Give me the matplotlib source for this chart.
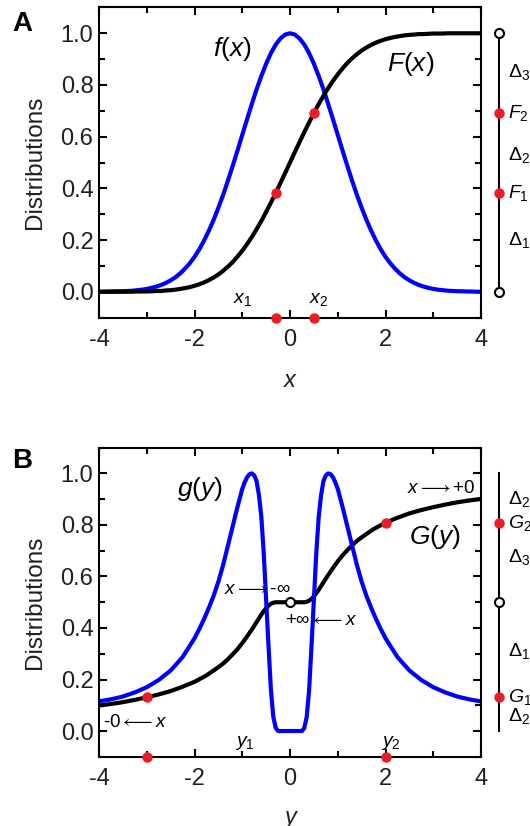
import matplotlib
matplotlib.use('Agg')
import matplotlib.pyplot as plt
from matplotlib.ticker import MultipleLocator

plt.rcParams.update({
    'font.family': ['Liberation Sans', 'DejaVu Sans'],
    'font.size': 17,
    'axes.unicode_minus': False,
    'mathtext.fontset': 'custom',
    'mathtext.rm': 'Liberation Sans',
    'mathtext.it': 'Liberation Sans:italic',
    'mathtext.bf': 'Liberation Sans:bold',
    'mathtext.fallback': 'stixsans',
})

# panel A: f(x) (scaled density) and F(x) (cumulative)
xa = [-4.0, -3.9, -3.8, -3.7, -3.6, -3.5, -3.4, -3.3, -3.2, -3.1,
      -3.0, -2.9, -2.8, -2.7, -2.6, -2.5, -2.4, -2.3, -2.2, -2.1,
      -2.0, -1.9, -1.8, -1.7, -1.6, -1.5, -1.4, -1.3, -1.2, -1.1,
      -1.0, -0.9, -0.8, -0.7, -0.6, -0.5, -0.4, -0.3, -0.2, -0.1,
      0.0, 0.1, 0.2, 0.3, 0.4, 0.5, 0.6, 0.7, 0.8, 0.9,
      1.0, 1.1, 1.2, 1.3, 1.4, 1.5, 1.6, 1.7, 1.8, 1.9,
      2.0, 2.1, 2.2, 2.3, 2.4, 2.5, 2.6, 2.7, 2.8, 2.9,
      3.0, 3.1, 3.2, 3.3, 3.4, 3.5, 3.6, 3.7, 3.8, 3.9, 4.0]
f_a = [0.000, 0.000, 0.001, 0.001, 0.002, 0.002, 0.003, 0.004, 0.006, 0.008,
       0.011, 0.015, 0.020, 0.026, 0.034, 0.044, 0.056, 0.071, 0.089, 0.110,
       0.135, 0.164, 0.198, 0.236, 0.278, 0.325, 0.375, 0.430, 0.487, 0.546,
       0.607, 0.667, 0.726, 0.783, 0.835, 0.882, 0.923, 0.956, 0.980, 0.995,
       1.000, 0.995, 0.980, 0.956, 0.923, 0.882, 0.835, 0.783, 0.726, 0.667,
       0.607, 0.546, 0.487, 0.430, 0.375, 0.325, 0.278, 0.236, 0.198, 0.164,
       0.135, 0.110, 0.089, 0.071, 0.056, 0.044, 0.034, 0.026, 0.020, 0.015,
       0.011, 0.008, 0.006, 0.004, 0.003, 0.002, 0.002, 0.001, 0.001, 0.000, 0.000]
F_a = [0.000, 0.000, 0.000, 0.000, 0.000, 0.000, 0.000, 0.000, 0.001, 0.001,
       0.001, 0.002, 0.003, 0.003, 0.005, 0.006, 0.008, 0.011, 0.014, 0.018,
       0.023, 0.029, 0.036, 0.045, 0.055, 0.067, 0.081, 0.097, 0.115, 0.136,
       0.159, 0.184, 0.212, 0.242, 0.274, 0.309, 0.345, 0.382, 0.421, 0.460,
       0.500, 0.540, 0.579, 0.618, 0.655, 0.691, 0.726, 0.758, 0.788, 0.816,
       0.841, 0.864, 0.885, 0.903, 0.919, 0.933, 0.945, 0.955, 0.964, 0.971,
       0.977, 0.982, 0.986, 0.989, 0.992, 0.994, 0.995, 0.997, 0.997, 0.998,
       0.999, 0.999, 0.999, 1.000, 1.000, 1.000, 1.000, 1.000, 1.000, 1.000, 1.000]
pts_x = [-0.3, 0.5]
pts_F = [0.382, 0.691]

# panel B: g(y) and G(y)
yb = [-4.0, -3.75, -3.5, -3.25, -3.0, -2.75, -2.5, -2.25, -2.0, -1.75, -1.5,
      -1.4, -1.3, -1.2, -1.1, -1.0, -0.9, -0.8, -0.7, -0.6, -0.55, -0.5,
      -0.45, -0.4, -0.35, -0.3, -0.2, -0.1, 0.0, 0.1, 0.2, 0.3, 0.35, 0.4,
      0.45, 0.5, 0.55, 0.6, 0.7, 0.8, 0.9, 1.0, 1.1, 1.2, 1.3, 1.4, 1.5,
      1.75, 2.0, 2.25, 2.5, 2.75, 3.0, 3.25, 3.5, 3.75, 4.0]
G_b = [0.099, 0.105, 0.112, 0.121, 0.131, 0.142, 0.155, 0.172, 0.191, 0.216, 0.248,
       0.262, 0.279, 0.298, 0.318, 0.341, 0.367, 0.394, 0.423, 0.452, 0.465, 0.477,
       0.487, 0.494, 0.498, 0.500, 0.500, 0.500, 0.500, 0.500, 0.500, 0.500, 0.502, 0.506,
       0.513, 0.523, 0.535, 0.548, 0.577, 0.606, 0.633, 0.659, 0.682, 0.702, 0.721, 0.738, 0.752,
       0.784, 0.809, 0.828, 0.845, 0.858, 0.869, 0.879, 0.888, 0.895, 0.901]
yg = [-4.0, -3.75, -3.5, -3.25, -3.0, -2.75, -2.5, -2.25, -2.0, -1.9, -1.8, -1.7,
      -1.6, -1.5, -1.4, -1.3, -1.2, -1.1, -1.0, -0.95, -0.9, -0.85, -0.8, -0.75,
      -0.7, -0.65, -0.6, -0.55, -0.5, -0.45, -0.4, -0.35, -0.3, -0.25,
      0.25, 0.3, 0.35, 0.4, 0.45, 0.5, 0.55, 0.6, 0.65, 0.7, 0.75, 0.8,
      0.85, 0.9, 0.95, 1.0, 1.1, 1.2, 1.3, 1.4, 1.5, 1.6, 1.7, 1.8, 1.9,
      2.0, 2.25, 2.5, 2.75, 3.0, 3.25, 3.5, 3.75, 4.0]
g_b = [0.115, 0.123, 0.134, 0.150, 0.170, 0.198, 0.235, 0.287, 0.360, 0.396, 0.435, 0.478,
       0.525, 0.580, 0.645, 0.720, 0.795, 0.870, 0.940, 0.965, 0.985, 0.997, 1.000, 0.993,
       0.970, 0.915, 0.830, 0.690, 0.510, 0.330, 0.160, 0.055, 0.012, 0.000,
       0.000, 0.012, 0.055, 0.160, 0.330, 0.510, 0.690, 0.830, 0.915, 0.970, 0.993, 1.000,
       0.997, 0.985, 0.965, 0.940, 0.870, 0.795, 0.720, 0.645, 0.580, 0.525, 0.478, 0.435, 0.396,
       0.360, 0.287, 0.235, 0.198, 0.170, 0.150, 0.134, 0.123, 0.115]
pts_y = [-3.0, 2.0]
pts_G = [0.131, 0.809]

xticks = [-4, -2, 0, 2, 4]
yticks = [0.0, 0.2, 0.4, 0.6, 0.8, 1.0]
ylabels = ['0.0', '0.2', '0.4', '0.6', '0.8', '1.0']

BLUE = '#0000ff'
RED = '#ec1c24'
TXT = '#231f20'
BAR_X = 4.38
LAB_X = 4.56

fig = plt.figure(figsize=(5.3, 8.26), dpi=100)
axA = fig.add_axes([0.1868, 0.6155, 0.7208, 0.3755])
axB = fig.add_axes([0.1868, 0.0838, 0.7208, 0.3742])


def style(ax, xlab, xlab_y):
    ax.set_xlim(-4, 4)
    ax.set_ylim(-0.1, 1.1)
    ax.set_xticks(xticks)
    ax.set_xticklabels([str(t) for t in xticks])
    ax.set_yticks(yticks)
    ax.set_yticklabels(ylabels)
    ax.xaxis.set_minor_locator(MultipleLocator(1))
    ax.yaxis.set_minor_locator(MultipleLocator(0.1))
    ax.tick_params(which='both', direction='in', top=True, right=True,
                   width=1.5, labelsize=17, labelcolor=TXT)
    ax.tick_params(which='major', length=6)
    ax.tick_params(which='minor', length=4)
    ax.tick_params(axis='x', pad=8)
    ax.tick_params(axis='y', pad=4)
    for s in ax.spines.values():
        s.set_linewidth(1.5)
    ax.set_ylabel('Distributions', fontsize=17.5, color=TXT)
    ax.yaxis.set_label_coords(-0.14, 0.5)
    ax.set_xlabel(xlab, fontsize=17, style='italic', color=TXT)
    ax.xaxis.set_label_coords(0.5, xlab_y)


# ---- panel A
style(axA, 'x', -0.165)
axA.plot(xa, f_a, color=BLUE, lw=3)
axA.plot(xa, F_a, color='k', lw=3)
axA.plot(pts_x, pts_F, 'o', color=RED, ms=6.5, zorder=5)
axA.plot(pts_x, [-0.1, -0.1], 'o', color=RED, ms=6.5, zorder=5, clip_on=False)
axA.text(-1.2, 0.94, r'$f(x)$', fontsize=19, ha='center', va='center')
axA.text(2.53, 0.88, r'$F(x)$', fontsize=19, ha='center', va='center')
axA.text(-1.0, -0.03, r'$x_1$', fontsize=14, ha='center', va='center')
axA.text(0.6, -0.03, r'$x_2$', fontsize=14, ha='center', va='center')

axA.plot([BAR_X, BAR_X], [0, 1], color='k', lw=1.5, clip_on=False)
axA.plot([BAR_X, BAR_X], [0, 1], 'o', mfc='white', mec='k', mew=1.5, ms=6.5, clip_on=False)
axA.plot([BAR_X, BAR_X], pts_F, 'o', color=RED, ms=6.5, clip_on=False, zorder=5)
for yv, s in [(0.85, r'$\Delta_3$'), (pts_F[1], r'$F_2$'), (0.53, r'$\Delta_2$'),
              (pts_F[0], r'$F_1$'), (0.2, r'$\Delta_1$')]:
    axA.text(LAB_X, yv, s, fontsize=14, ha='left', va='center', clip_on=False)

# ---- panel B
style(axB, 'y', -0.158)
axB.plot(yb, G_b, color='k', lw=3)
axB.plot(yg, g_b, color=BLUE, lw=3)
axB.plot([0], [0.5], 'o', mfc='white', mec='k', mew=1.5, ms=6.5, zorder=6)
axB.plot(pts_y, pts_G, 'o', color=RED, ms=6.5, zorder=5)
axB.plot(pts_y, [-0.1, -0.1], 'o', color=RED, ms=6.5, zorder=5, clip_on=False)
axB.text(-1.88, 0.94, r'$g(y)$', fontsize=19, ha='center', va='center')
axB.text(3.04, 0.753, r'$G(y)$', fontsize=19, ha='center', va='center')
axB.text(3.16, 0.94, r'$x\longrightarrow$+0', fontsize=13.5, ha='center', va='center')
axB.text(-0.69, 0.55, r'$x\longrightarrow$-' + '\u221e', fontsize=13.5, ha='center', va='center')
axB.text(0.65, 0.43, '+\u221e' + r'$\longleftarrow x$', fontsize=13.5, ha='center', va='center')
axB.text(-3.25, 0.035, '-0' + r'$\longleftarrow x$', fontsize=13.5, ha='center', va='center')
axB.text(-0.94, -0.045, r'$y_1$', fontsize=14, ha='center', va='center')
axB.text(2.11, -0.045, r'$y_2$', fontsize=14, ha='center', va='center')

axB.plot([BAR_X, BAR_X], [0, 1], color='k', lw=1.5, clip_on=False)
axB.plot([BAR_X], [0.5], 'o', mfc='white', mec='k', mew=1.5, ms=6.5, clip_on=False, zorder=6)
axB.plot([BAR_X, BAR_X], pts_G, 'o', color=RED, ms=6.5, clip_on=False, zorder=5)
for yv, s in [(0.9, r'$\Delta_2$'), (pts_G[1], r'$G_2$'), (0.675, r'$\Delta_3$'),
              (0.31, r'$\Delta_1$'), (pts_G[0], r'$G_1$'), (0.06, r'$\Delta_2$')]:
    axB.text(LAB_X, yv, s, fontsize=14, ha='left', va='center', clip_on=False)

fig.text(12 / 530, 1 - 11 / 826, 'A', fontsize=20, fontweight='bold', va='top', ha='left')
fig.text(12 / 530, 1 - 448 / 826, 'B', fontsize=20, fontweight='bold', va='top', ha='left')

fig.savefig('out.png', dpi=100)
